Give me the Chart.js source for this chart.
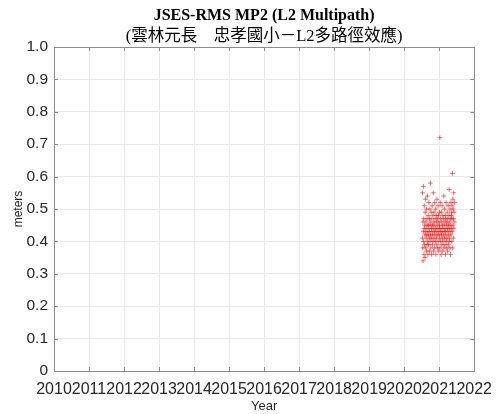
<!DOCTYPE html>
<html><head><meta charset="utf-8">
<script src="https://cdn.jsdelivr.net/npm/chart.js@4"></script>
<style>html,body{margin:0;padding:0;background:#fff}#wrap{width:501px;height:414px}</style>
</head><body><div id="wrap"><canvas id="c" width="501" height="414"></canvas></div>
<script>
const titleText = 'JSES-RMS MP2 (L2 Multipath)';
const subtitleText = '(雲林元長　忠孝國小－L2多路徑效應)';
const xTicks = [2010,2011,2012,2013,2014,2015,2016,2017,2018,2019,2020,2021,2022];
const yTicks = [0,0.1,0.2,0.3,0.4,0.5,0.6,0.7,0.8,0.9,1.0];
const years = [
2020.52,2020.525,2020.53,2020.535,2020.54,2020.545,2020.55,2020.555,2020.56,2020.565,
2020.57,2020.575,2020.58,2020.585,2020.59,2020.595,2020.60,2020.605,2020.61,2020.615,
2020.62,2020.625,2020.63,2020.635,2020.64,2020.645,2020.65,2020.655,2020.66,2020.665,
2020.67,2020.675,2020.68,2020.685,2020.69,2020.695,2020.70,2020.705,2020.71,2020.715,
2020.72,2020.725,2020.73,2020.735,2020.74,2020.745,2020.75,2020.755,2020.76,2020.765,
2020.77,2020.775,2020.78,2020.785,2020.79,2020.795,2020.80,2020.805,2020.81,2020.815,
2020.82,2020.825,2020.83,2020.835,2020.84,2020.845,2020.85,2020.855,2020.86,2020.865,
2020.87,2020.875,2020.88,2020.885,2020.89,2020.895,2020.90,2020.905,2020.91,2020.915,
2020.92,2020.925,2020.93,2020.935,2020.94,2020.945,2020.95,2020.955,2020.96,2020.965,
2020.97,2020.975,2020.98,2020.985,2020.99,2020.995,2021.00,2021.005,2021.01,2021.015,
2021.02,2021.025,2021.03,2021.035,2021.04,2021.045,2021.05,2021.055,2021.06,2021.065,
2021.07,2021.075,2021.08,2021.085,2021.09,2021.095,2021.10,2021.105,2021.11,2021.115,
2021.12,2021.125,2021.13,2021.135,2021.14,2021.145,2021.15,2021.155,2021.16,2021.165,
2021.17,2021.175,2021.18,2021.185,2021.19,2021.195,2021.20,2021.205,2021.21,2021.215,
2021.22,2021.225,2021.23,2021.235,2021.24,2021.245,2021.25,2021.255,2021.26,2021.265,
2021.27,2021.275,2021.28,2021.285,2021.29,2021.295,2021.30,2021.305,2021.31,2021.315,
2021.32,2021.325,2021.33,2021.335,2021.34,2021.345,2021.35,2021.355,2021.36,2021.365,
2021.37,2021.375,2021.38,2021.385,2021.39,2021.395,2021.40,2021.405,2021.41,2021.415,
2021.42,2021.425,2021.43,2021.435
];
const mp2 = [
0.41,0.55,0.38,0.46,0.34,0.43,0.57,0.40,0.47,0.36,
0.44,0.51,0.39,0.45,0.42,0.35,0.49,0.43,0.53,0.38,
0.46,0.41,0.44,0.37,0.50,0.42,0.47,0.39,0.45,0.54,
0.40,0.43,0.36,0.48,0.42,0.45,0.39,0.52,0.44,0.41,
0.47,0.37,0.43,0.50,0.40,0.46,0.58,0.42,0.38,0.45,
0.49,0.41,0.44,0.36,0.47,0.43,0.51,0.39,0.45,0.42,
0.48,0.40,0.55,0.44,0.37,0.46,0.41,0.49,0.43,0.38,
0.45,0.52,0.42,0.47,0.40,0.44,0.50,0.36,0.43,0.48,
0.41,0.46,0.39,0.53,0.44,0.42,0.47,0.38,0.45,0.51,
0.40,0.43,0.48,0.37,0.46,0.42,0.44,0.49,0.45,0.41,
0.72,0.38,0.52,0.43,0.47,0.40,0.44,0.36,0.49,0.42,
0.46,0.39,0.43,0.51,0.41,0.45,0.37,0.48,0.44,0.40,
0.47,0.42,0.54,0.38,0.45,0.43,0.50,0.41,0.46,0.39,
0.44,0.48,0.36,0.43,0.47,0.42,0.52,0.40,0.45,0.38,
0.46,0.41,0.49,0.44,0.37,0.47,0.43,0.51,0.39,0.45,
0.42,0.48,0.40,0.56,0.44,0.41,0.46,0.38,0.50,0.43,
0.47,0.36,0.45,0.52,0.42,0.49,0.48,0.44,0.40,0.47,
0.51,0.43,0.61,0.38,0.53,0.45,0.50,0.41,0.47,0.55,
0.44,0.49,0.46,0.52
];

const points = years.map((x,i)=>({x:x,y:mp2[i]}));

const boxPlugin = {
  id:'box',
  afterDraw(chart){
    const {ctx, chartArea:a, scales} = chart;
    ctx.save();
    ctx.strokeStyle = '#8c8c8c';
    ctx.lineWidth = 1;
    ctx.beginPath();
    xTicks.forEach(v=>{
      const px = Math.round(scales.x.getPixelForValue(v))+0.5;
      ctx.moveTo(px,a.bottom); ctx.lineTo(px,a.bottom-4);
      ctx.moveTo(px,a.top); ctx.lineTo(px,a.top+4);
    });
    yTicks.forEach(v=>{
      const py = Math.round(scales.y.getPixelForValue(v))+0.5;
      ctx.moveTo(a.left,py); ctx.lineTo(a.left+4,py);
      ctx.moveTo(a.right,py); ctx.lineTo(a.right-4,py);
    });
    ctx.stroke();
    ctx.strokeRect(Math.round(a.left)+0.5, Math.round(a.top)+0.5, Math.round(a.right-a.left), Math.round(a.bottom-a.top));
    ctx.restore();
  }
};

new Chart(document.getElementById('c'), {
  type:'scatter',
  data:{datasets:[{
    label:'MP2',
    data:points,
    pointStyle:'cross',
    pointRadius:2.4,
    pointHoverRadius:2.4,
    borderColor:'rgba(235,0,0,0.8)',
    backgroundColor:'rgba(235,0,0,0.8)',
    pointBorderWidth:0.7
  }]},
  options:{
    responsive:false,
    animation:false,
    layout:{padding:{left:8,right:21,top:6,bottom:0}},
    plugins:{
      legend:{display:false},
      tooltip:{enabled:false},
      title:{display:true,fullSize:false,text:titleText,color:'#000',
        font:{family:'"Liberation Serif","Times New Roman",serif',size:16,weight:'bold'},
        padding:{top:0,bottom:2}},
      subtitle:{display:true,fullSize:false,text:subtitleText,color:'#000',
        font:{family:'"Liberation Serif","Noto Sans CJK TC",serif',size:16.5,weight:'normal'},
        padding:{top:0,bottom:0}}
    },
    scales:{
      x:{type:'linear',min:2010,max:2022,
        afterBuildTicks(s){s.ticks = xTicks.map(v=>({value:v}));},
        afterFit(s){s.height = 43;},
        ticks:{autoSkip:false,maxRotation:0,minRotation:0,padding:9,color:'#262626',
          font:{family:'"Liberation Sans",Arial,sans-serif',size:16},
          callback:v=>String(v)},
        grid:{color:'#e8e8e8',drawTicks:false},
        border:{display:false},
        title:{display:true,text:'Year',color:'#262626',padding:{top:0,bottom:0},
          font:{family:'"Liberation Sans",Arial,sans-serif',size:13}}
      },
      y:{type:'linear',min:0,max:1,
        afterBuildTicks(s){s.ticks = yTicks.map(v=>({value:v}));},
        afterFit(s){s.width = 46;},
        ticks:{padding:6,color:'#262626',
          font:{family:'"Liberation Sans",Arial,sans-serif',size:15.5},
          callback:v=>v===0?'0':Number(v).toFixed(1)},
        grid:{color:'#e8e8e8',drawTicks:false},
        border:{display:false},
        title:{display:true,text:'meters',color:'#262626',padding:{top:3,bottom:0},
          font:{family:'"Liberation Sans",Arial,sans-serif',size:12}}
      }
    }
  },
  plugins:[boxPlugin]
});
</script>
</body></html>
